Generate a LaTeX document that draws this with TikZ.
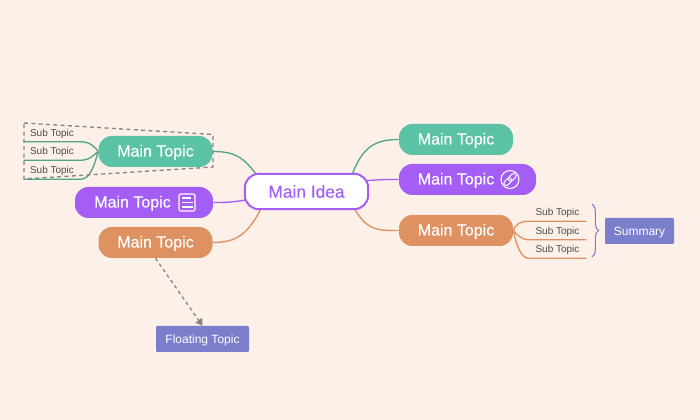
\documentclass[tikz,border=0pt]{standalone}
\usepackage{fontspec}
\setmainfont{Liberation Sans}
\newfontfamily\topicfont{Liberation Sans}[FakeBold=0.25]
\usetikzlibrary{arrows.meta, decorations.pathreplacing}
\definecolor{mypage}{HTML}{FDF0E8}
\definecolor{mygreen}{HTML}{5CC2A5}
\definecolor{mygreenline}{HTML}{4FA586}
\definecolor{mypurple}{HTML}{A45EF5}
\definecolor{myorange}{HTML}{DE9262}
\definecolor{myblue}{HTML}{7A7ECB}
\definecolor{mygray}{HTML}{858585}
\pgfdeclarelayer{page}
\pgfdeclarelayer{links}
\pgfsetlayers{page,links,main}

\begin{document}
\begin{tikzpicture}[x=0.75pt, y=-0.75pt]
    % Define styles for topics and links
    \tikzstyle{topic}=[rectangle, rounded corners=10pt, inner sep=0pt, text=white, minimum height=23.25pt, text height=10pt, text depth=2.5pt, font=\topicfont\fontsize{12}{14}\selectfont]
    \tikzstyle{green topic}=[topic, fill=mygreen, minimum width=85.5pt]
    \tikzstyle{purple topic}=[topic, fill=mypurple]
    \tikzstyle{orange topic}=[topic, fill=myorange, minimum width=85.5pt]
    \tikzstyle{idea}=[rectangle, rounded corners=10.5pt, draw=mypurple, line width=1.5pt, fill=white, text=mypurple, inner sep=0pt, minimum width=92.5pt, minimum height=26.5pt, font=\topicfont\fontsize{13}{15}\selectfont]
    \tikzstyle{sub topic}=[inner sep=0pt, minimum height=13.5pt, text=black!70, text height=6.9pt, text depth=1.6pt, font=\fontsize{7.5}{9}\selectfont]
    \tikzstyle{float topic}=[rectangle, rounded corners=0.8pt, fill=myblue, text=white, inner sep=0pt, minimum height=19.5pt, text height=8.7pt, text depth=1.9pt, font=\fontsize{9}{11}\selectfont]
    \tikzstyle{link}=[line width=1pt, shorten <=-3pt]
    \tikzstyle{sub link}=[line width=1pt]
    \tikzstyle{icon}=[draw=white, line width=0.8pt]

    % Page
    \begin{pgfonlayer}{page}
    \fill[mypage] (0,0) rectangle (700,420);
    \end{pgfonlayer}
    \useasboundingbox (0,0) rectangle (700,420);

    % Central topic
    \node[idea] (Idea) at (306.5,191.5) {Main Idea};

    % Right topics
    \node[green topic] (R-G) at (456,139.5) {Main Topic};
    \node[purple topic, minimum width=102.75pt] (R-P) at (467.5,179.5) {Main Topic\kern17.25pt};
    \node[orange topic] (R-O) at (456,230.5) {Main Topic};

    % Left topics
    \node[green topic] (L-G) at (155.5,151.5) {Main Topic};
    \node[purple topic, minimum width=103.5pt] (L-P) at (144,202.5) {Main Topic\kern17.25pt};
    \node[orange topic] (L-O) at (155.5,242.5) {Main Topic};

    % Floating topic and summary
    \node[float topic, minimum width=69.75pt] (Float) at (202.5,339) {Floating Topic};
    \node[float topic, minimum width=51.75pt] (Summary) at (639.5,231) {Summary};

    % Icons
    \node[icon, rectangle, rounded corners=1pt, inner sep=0pt, minimum width=12pt, minimum height=12.75pt] (Doc) at (187,202.5) {};
    \foreach \y/\w in {198/9, 202.5/11, 207/11} {
        \draw[icon] (182,\y) -- ++(\w,0);
    }
    \node[icon, circle, inner sep=0pt, minimum size=13.5pt] (Link) at (510,179.5) {};
    \foreach \s in {-2.2,2.2} {
        \node[icon, line width=0.7pt, rectangle, rounded corners=1.6pt, rotate=45, inner sep=0pt, minimum width=6.5pt, minimum height=3.6pt] at ([shift={(\s,-\s)}]Link.center) {};
    }

    % Sub topics
    \foreach \i/\y in {1/132.5, 2/151, 3/170} {
        \node[sub topic, minimum width=42pt] (L-S-\i) at (52,\y) {Sub Topic};
    }
    \foreach \i/\y in {1/212, 2/230.5, 3/249} {
        \node[sub topic, minimum width=42.75pt] (R-S-\i) at (557.5,\y) {Sub Topic};
    }

    % Connections: Main idea to topics
    \begin{pgfonlayer}{links}
    \draw[link, mygreenline] (Idea.22) .. controls +(9,-24) and +(-26,0) .. (R-G.west);
    \draw[link, mypurple] (Idea.10) .. controls +(14,-1) and +(-16,0) .. (R-P.west);
    \draw[link, myorange] (Idea.-21) .. controls +(12,20) and +(-24,0) .. (R-O.west);
    \draw[link, mygreenline] (Idea.160) .. controls +(-12,-16) and +(22,0) .. (L-G.east);
    \draw[link, mypurple] (Idea.188) .. controls +(-12,2) and +(14,0) .. (L-P.east);
    \draw[link, myorange] (Idea.202) .. controls +(-12,24) and +(24,0) .. (L-O.east);
    \end{pgfonlayer}

    % Connections: Topics to sub topics
    \foreach \i/\d in {1/-5, 2/3, 3/14} {
        \draw[sub link, mygreenline] (L-G.west) .. controls +(-4,\d) and +(10,0) .. (L-S-\i.south east) -- (L-S-\i.south west);
    }
    \foreach \i/\d in {1/-7, 2/3, 3/14} {
        \draw[sub link, myorange] (R-O.east) .. controls +(3,\d) and +(-8,0) .. (R-S-\i.south west) -- (R-S-\i.south east);
    }

    % Boundary round the left sub topics
    \draw[mygray, line width=1pt, dash pattern=on 3pt off 2.5pt] (24,123) -- (213,134.5) -- (213,167) -- (24,179) -- cycle;

    % Summary brace
    \coordinate (Brace-T) at (592,204);
    \coordinate (Brace-B) at (592,257);
    \draw[myblue, line width=0.8pt, decorate, decoration={brace, amplitude=5pt}] (Brace-T) -- (Brace-B);

    % Floating topic link
    \draw[mygray, line width=1pt, dash pattern=on 2.5pt off 2.5pt, -{Triangle[length=5pt, width=6pt]}] (L-O.south) -- (Float.north);
\end{tikzpicture}
\end{document}
